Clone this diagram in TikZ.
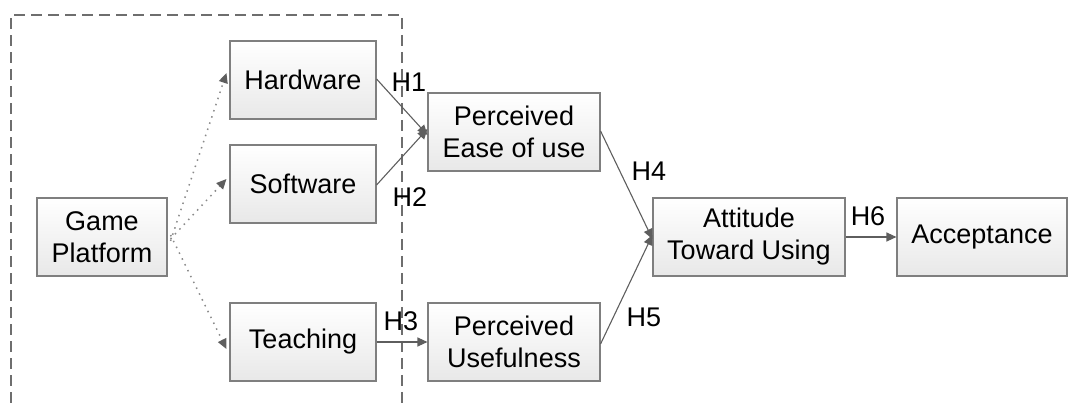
\documentclass[tikz,border=0pt]{standalone}
\usepackage{fontspec}
\setmainfont{Liberation Sans}
\usetikzlibrary{arrows.meta}
\definecolor{boxline}{HTML}{7F7F7F}
\definecolor{arrowcol}{HTML}{5E5E5E}
\definecolor{dotcol}{HTML}{8A8A8A}
\definecolor{dashcol}{HTML}{6E6E6E}
\tikzset{
  stagebox/.style={draw=boxline, line width=1.1pt, top color=white, bottom color=black!9,
    align=center, inner sep=0pt, minimum height=78pt, font=\fontsize{27}{32}\selectfont},
  linkarrow/.style={draw=arrowcol, line width=1.1pt, -{Triangle[length=10pt,width=9pt]}},
  dotarrow/.style={draw=dotcol, line width=1.5pt, dash pattern=on 1.5pt off 5pt,
    -{Triangle[length=10pt,width=9pt,color=arrowcol]}},
  hlabel/.style={font=\fontsize{27}{32}\selectfont, inner sep=0pt},
  groupframe/.style={draw=dashcol, line width=1.1pt, dash pattern=on 11pt off 6pt}
}
\begin{document}
\begin{tikzpicture}[x=1pt,y=-1pt]
  \useasboundingbox (0,0) rectangle (1069,403);

  % dashed frame around the platform components (open at the bottom)
  \draw[groupframe] (11,403) -- (11,15) -- (402,15) -- (402,403);

  % boxes
  \node[stagebox, minimum width=146pt] (hw)    at (303,80)  {Hardware};
  \node[stagebox, minimum width=146pt] (sw)    at (303,184) {Software};
  \node[stagebox, minimum width=130pt] (gp)    at (102,237) {Game\\Platform};
  \node[stagebox, minimum width=146pt] (teach) at (303,342) {Teaching};
  \node[stagebox, minimum width=172pt] (ease)  at (514,132) {Perceived\\Ease of use};
  \node[stagebox, minimum width=172pt] (use)   at (514,342) {Perceived\\Usefulness};
  \node[stagebox, minimum width=192pt] (att)   at (749,237) {Attitude\\Toward Using};
  \node[stagebox, minimum width=170pt] (acc)   at (982,237) {Acceptance};

  % dotted links from the game platform
  \draw[dotarrow] ([xshift=3pt,yshift=-4pt]gp.east) -- ([xshift=-3pt,yshift=7pt]hw.west);
  \draw[dotarrow] ([xshift=3pt,yshift=-2pt]gp.east) -- ([xshift=-3pt,yshift=5pt]sw.west);
  \draw[dotarrow] ([xshift=3pt,yshift=2pt]gp.east)  -- ([xshift=-3pt,yshift=-7pt]teach.west);

  % hypothesis links
  \draw[linkarrow] ([yshift=1pt]hw.east)  -- ([yshift=-3pt]ease.west);
  \draw[linkarrow] ([yshift=-1pt]sw.east) -- ([yshift=3pt]ease.west);
  \draw[linkarrow] (teach.east) -- (use.west);
  \draw[linkarrow] ([yshift=1pt]ease.east) -- ([yshift=-2pt]att.west);
  \draw[linkarrow] ([yshift=-2pt]use.east) -- ([yshift=2pt]att.west);
  \draw[linkarrow] (att.east) -- (acc.west);

  % hypothesis labels
  \node[hlabel] (h1) at (409,82)  {H1};
  \node[hlabel] (h2) at (410,197) {H2};
  \node[hlabel] (h3) at (401,321) {H3};
  \node[hlabel] (h4) at (649,171) {H4};
  \node[hlabel] (h5) at (644,317) {H5};
  \node[hlabel] (h6) at (868,216) {H6};
\end{tikzpicture}
\end{document}
